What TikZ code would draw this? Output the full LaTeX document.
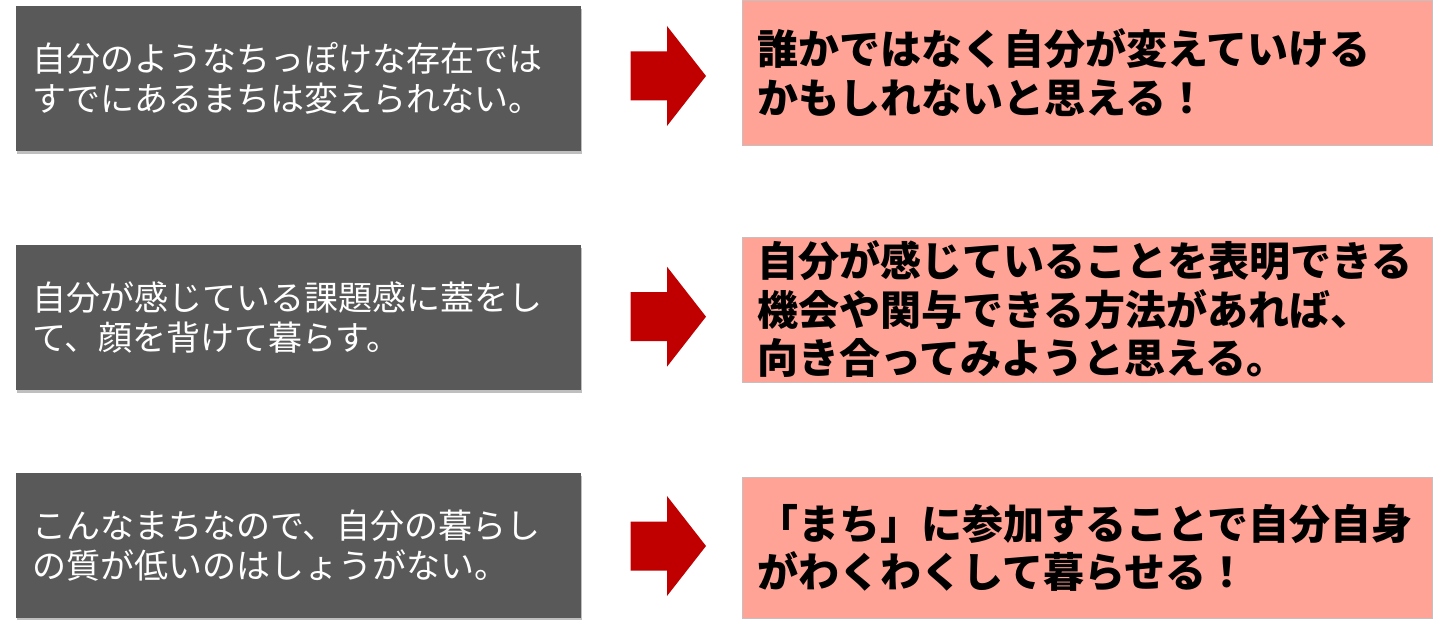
\documentclass[tikz,border=0pt]{standalone}
\usepackage{fontspec}
\newfontfamily\jpfont{Noto Sans CJK JP}
\usetikzlibrary{shadows}
\definecolor{slate}{RGB}{89,89,89}
\definecolor{salmon}{RGB}{255,163,151}
\definecolor{salmonedge}{RGB}{200,190,190}
\definecolor{arrowred}{RGB}{192,0,0}
\tikzset{
    nowbox/.style={fill=slate, text=white, text width=533pt, inner xsep=16pt,
        minimum height=145pt, align=left,
        font=\jpfont\fontsize{34}{40}\selectfont,
        drop shadow={shadow xshift=1pt, shadow yshift=-3pt, opacity=.25, fill=black}},
    hopebox/.style={fill=salmon, draw=salmonedge, line width=.6pt, text=black,
        text width=660pt, inner xsep=15pt, align=left,
        font=\jpfont\bfseries\fontsize{41}{48.5}\selectfont}
}
\begin{document}
\begin{tikzpicture}[x=1pt,y=-1pt]
    \useasboundingbox (0,0) rectangle (1440,620);
    \foreach \i/\yl/\yr/\hr/\ya/\tl/\tr in {
        1/78.5/72.5/145/76/{自分のようなちっぽけな存在では\\すでにあるまちは変えられない。}/{誰かではなく自分が変えていける\\かもしれないと思える！},
        2/317.5/309.5/145/316.7/{自分が感じている課題感に蓋をし\\て、顔を背けて暮らす。}/{自分が感じていることを表明できる\\機会や関与できる方法があれば、\\向き合ってみようと思える。},
        3/545.5/548/141/546/{こんなまちなので、自分の暮らし\\の質が低いのはしょうがない。}/{「まち」に参加することで自分自身\\がわくわくして暮らせる！}
    } {
        \node[nowbox] (now\i) at (298.5,\yl) {\tl};
        \node[hopebox, minimum height=\hr pt] (hope\i) at (1087.5,\yr) {\tr};
        \coordinate (arr\i) at (630.7,\ya);
        \fill[arrowred] (arr\i) ++(0,-24.5) -- ++(36.3,0) -- ++(0,-25.5)
            -- ++(39,50) -- ++(-39,50) -- ++(0,-25.5) -- ++(-36.3,0) -- cycle;
    }
\end{tikzpicture}
\end{document}
